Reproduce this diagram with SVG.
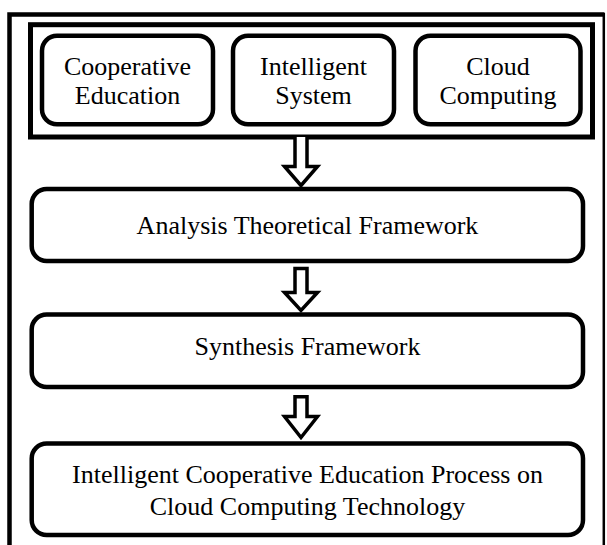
<svg xmlns="http://www.w3.org/2000/svg" width="607" height="545" viewBox="0 0 607 545">
<style>
.frame{fill:none;stroke:#000;}
.box{fill:#fff;stroke:#000;stroke-width:4.5;}
.lbl{font-family:"Liberation Serif","Times New Roman",serif;font-size:26px;fill:#000;text-anchor:middle;}
.arrow{fill:#fff;stroke:#000;stroke-width:3.5;stroke-linejoin:miter;stroke-miterlimit:10;}
</style>
<rect width="607" height="545" fill="#fff"/>
<g id="outer-frame">
<path class="frame" d="M9.5 548 V14.5 H604.5" stroke-width="4.5"/>
<path class="frame" d="M603.8 13 V548" stroke-width="2.5"/>
</g>
<g id="concepts-frame">
<rect class="frame" x="30.5" y="24.7" width="562" height="112.3" stroke-width="5"/>
</g>
<g id="cooperative-education">
<rect class="box" x="42" y="35.8" width="171" height="88.4" rx="15"/>
<text class="lbl" x="127.5" y="75">Cooperative</text>
<text class="lbl" x="127.5" y="104">Education</text>
</g>
<g id="intelligent-system">
<rect class="box" x="233" y="35.8" width="161" height="88.4" rx="15"/>
<text class="lbl" x="313.5" y="75">Intelligent</text>
<text class="lbl" x="313.5" y="104">System</text>
</g>
<g id="cloud-computing">
<rect class="box" x="415.5" y="35.8" width="165" height="88.4" rx="15"/>
<text class="lbl" x="498" y="75">Cloud</text>
<text class="lbl" x="498" y="104">Computing</text>
</g>
<g id="analysis">
<rect class="box" x="31.7" y="189" width="551.3" height="72" rx="15"/>
<text class="lbl" x="307.5" y="234">Analysis Theoretical Framework</text>
</g>
<g id="synthesis">
<rect class="box" x="31.7" y="314.5" width="551.3" height="72.5" rx="15"/>
<text class="lbl" x="307.5" y="355">Synthesis Framework</text>
</g>
<g id="process">
<rect class="box" x="31.7" y="443.5" width="551.3" height="91.5" rx="15"/>
<text class="lbl" x="307.5" y="483">Intelligent Cooperative Education Process on</text>
<text class="lbl" x="307.5" y="515">Cloud Computing Technology</text>
</g>
<g id="connectors">
<path class="arrow" d="M295 137 V166.5 H284.5 L301 185.5 L317.5 166.5 H307 V137"/>
<path class="arrow" d="M295 268.5 H307 V292.5 H317.5 L301 310.5 L284.5 292.5 H295 Z"/>
<path class="arrow" d="M295 396.75 H307 V416.5 H317.5 L301 437.5 L284.5 416.5 H295 Z"/>
</g>
</svg>
